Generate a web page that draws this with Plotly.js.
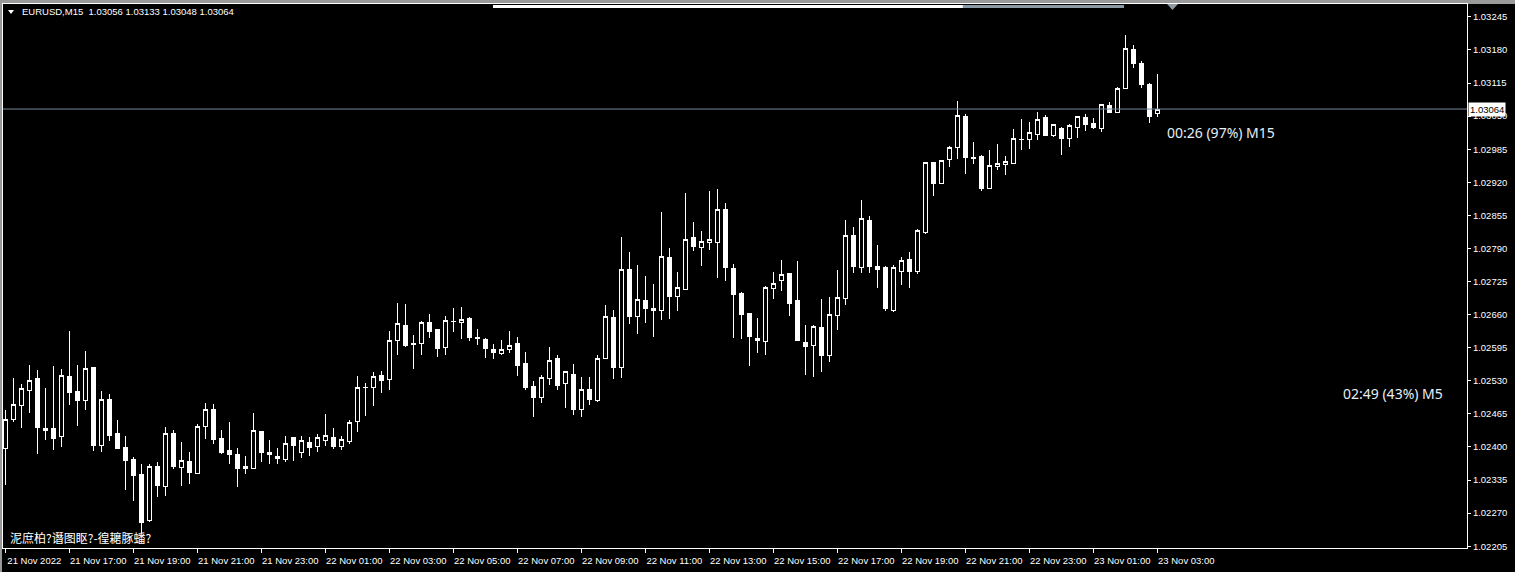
<!DOCTYPE html>
<html><head><meta charset="utf-8">
<script src="https://cdn.plot.ly/plotly-3.0.1.min.js"></script>
<style>
html,body{margin:0;padding:0;background:#000;overflow:hidden;}
#chart{width:1515px;height:572px;}
.trace.boxes path{shape-rendering:crispEdges;}
</style></head><body><div id="chart"></div><script>
const symbolTitle = 'EURUSD,M15';
const openP = [1.02397,1.02453,1.02481,1.02511,1.02534,1.02437,1.02437,1.02420,1.02539,1.02509,
1.02491,1.02557,1.02403,1.02494,1.02427,1.02398,1.02376,1.02345,1.02255,1.02361,
1.02322,1.02426,1.02360,1.02372,1.02348,1.02440,1.02473,1.02416,1.02394,1.02386,
1.02361,1.02357,1.02431,1.02390,1.02382,1.02375,1.02418,1.02390,1.02408,1.02400,
1.02412,1.02418,1.02400,1.02410,1.02450,1.02517,1.02516,1.02541,1.02533,1.02609,
1.02638,1.02604,1.02603,1.02644,1.02630,1.02595,1.02647,1.02644,1.02653,1.02616,
1.02612,1.02592,1.02583,1.02591,1.02604,1.02563,1.02518,1.02497,1.02534,1.02573,
1.02524,1.02543,1.02473,1.02512,1.02492,1.02573,1.02655,1.02556,1.02748,1.02656,
1.02687,1.02673,1.02668,1.02773,1.02695,1.02710,1.02811,1.02792,1.02802,1.02802,
1.02866,1.02750,1.02702,1.02663,1.02614,1.02608,1.02711,1.02727,1.02740,1.02687,
1.02606,1.02600,1.02634,1.02579,1.02659,1.02691,1.02815,1.02752,1.02844,1.02754,
1.02752,1.02669,1.02744,1.02769,1.02744,1.02822,1.02958,1.02917,1.02964,1.02988,
1.03050,1.02969,1.02970,1.02907,1.02951,1.02955,1.02957,1.03005,1.03004,1.03014,
1.03048,1.03012,1.03025,1.03006,1.03027,1.03048,1.03035,1.03025,1.03070,1.03057,
1.03105,1.03180,1.03154,1.03113,1.03056];
const highP = [1.02473,1.02535,1.02524,1.02561,1.02551,1.02516,1.02559,1.02553,1.02628,1.02561,
1.02589,1.02557,1.02509,1.02505,1.02453,1.02422,1.02381,1.02367,1.02367,1.02371,
1.02439,1.02433,1.02410,1.02390,1.02445,1.02486,1.02484,1.02433,1.02449,1.02398,
1.02382,1.02467,1.02431,1.02414,1.02398,1.02422,1.02420,1.02422,1.02420,1.02426,
1.02465,1.02437,1.02422,1.02453,1.02539,1.02525,1.02547,1.02549,1.02628,1.02683,
1.02681,1.02620,1.02648,1.02661,1.02630,1.02657,1.02673,1.02675,1.02655,1.02632,
1.02614,1.02602,1.02610,1.02628,1.02616,1.02587,1.02530,1.02541,1.02596,1.02581,
1.02549,1.02563,1.02538,1.02538,1.02581,1.02679,1.02669,1.02813,1.02783,1.02758,
1.02736,1.02720,1.02862,1.02791,1.02744,1.02899,1.02842,1.02824,1.02903,1.02907,
1.02879,1.02760,1.02704,1.02663,1.02653,1.02716,1.02744,1.02767,1.02740,1.02765,
1.02640,1.02640,1.02691,1.02695,1.02748,1.02846,1.02832,1.02885,1.02854,1.02797,
1.02756,1.02758,1.02773,1.02783,1.02828,1.02958,1.02958,1.02964,1.02991,1.03080,
1.03054,1.02999,1.02974,1.02984,1.02995,1.02972,1.03025,1.03044,1.03038,1.03058,
1.03052,1.03033,1.03029,1.03035,1.03050,1.03054,1.03046,1.03072,1.03078,1.03107,
1.03209,1.03190,1.03158,1.03115,1.03133];
const lowP = [1.02325,1.02450,1.02438,1.02467,1.02386,1.02414,1.02394,1.02400,1.02483,1.02441,
1.02473,1.02392,1.02391,1.02412,1.02397,1.02315,1.02293,1.02231,1.02253,1.02302,
1.02304,1.02357,1.02324,1.02328,1.02348,1.02416,1.02406,1.02386,1.02367,1.02322,
1.02347,1.02357,1.02371,1.02367,1.02367,1.02371,1.02373,1.02378,1.02382,1.02390,
1.02402,1.02396,1.02394,1.02406,1.02429,1.02460,1.02481,1.02507,1.02511,1.02581,
1.02597,1.02553,1.02580,1.02615,1.02577,1.02580,1.02625,1.02613,1.02608,1.02601,
1.02575,1.02573,1.02580,1.02585,1.02539,1.02511,1.02458,1.02487,1.02522,1.02511,
1.02477,1.02463,1.02458,1.02483,1.02488,1.02573,1.02534,1.02536,1.02642,1.02622,
1.02644,1.02616,1.02650,1.02652,1.02667,1.02708,1.02785,1.02756,1.02787,1.02732,
1.02726,1.02614,1.02612,1.02559,1.02585,1.02581,1.02691,1.02706,1.02657,1.02608,
1.02541,1.02538,1.02547,1.02567,1.02630,1.02679,1.02742,1.02742,1.02742,1.02712,
1.02667,1.02665,1.02718,1.02712,1.02740,1.02818,1.02893,1.02917,1.02950,1.02966,
1.02936,1.02956,1.02903,1.02907,1.02944,1.02934,1.02957,1.02984,1.02985,1.03003,
1.03012,1.03009,1.02974,1.02989,1.03007,1.03021,1.03025,1.03019,1.03057,1.03057,
1.03103,1.03145,1.03105,1.03037,1.03048];
const closeP = [1.02453,1.02483,1.02514,1.02531,1.02438,1.02433,1.02416,1.02541,1.02507,1.02492,
1.02555,1.02402,1.02494,1.02422,1.02397,1.02373,1.02344,1.02251,1.02361,1.02324,
1.02427,1.02361,1.02374,1.02349,1.02441,1.02474,1.02414,1.02390,1.02385,1.02357,
1.02357,1.02433,1.02390,1.02385,1.02377,1.02406,1.02402,1.02412,1.02398,1.02418,
1.02422,1.02400,1.02414,1.02449,1.02517,1.02516,1.02539,1.02530,1.02610,1.02642,
1.02600,1.02602,1.02644,1.02627,1.02593,1.02648,1.02646,1.02651,1.02616,1.02613,
1.02593,1.02585,1.02592,1.02600,1.02561,1.02516,1.02497,1.02536,1.02569,1.02520,
1.02549,1.02473,1.02512,1.02493,1.02573,1.02657,1.02557,1.02748,1.02656,1.02689,
1.02672,1.02668,1.02775,1.02695,1.02714,1.02807,1.02793,1.02803,1.02808,1.02866,
1.02752,1.02700,1.02661,1.02618,1.02610,1.02714,1.02722,1.02738,1.02681,1.02610,
1.02598,1.02636,1.02579,1.02661,1.02693,1.02815,1.02754,1.02848,1.02754,1.02748,
1.02673,1.02752,1.02767,1.02744,1.02826,1.02958,1.02917,1.02963,1.02989,1.03052,
1.02968,1.02966,1.02907,1.02954,1.02956,1.02960,1.03007,1.03004,1.03017,1.03044,
1.03012,1.03033,1.03007,1.03031,1.03050,1.03033,1.03027,1.03072,1.03057,1.03105,
1.03182,1.03154,1.03113,1.03050,1.03064];
const xTickLabels = ['21 Nov 2022','21 Nov 17:00','21 Nov 19:00','21 Nov 21:00','21 Nov 23:00',
'22 Nov 01:00','22 Nov 03:00','22 Nov 05:00','22 Nov 07:00','22 Nov 09:00','22 Nov 11:00',
'22 Nov 13:00','22 Nov 15:00','22 Nov 17:00','22 Nov 19:00','22 Nov 21:00','22 Nov 23:00',
'23 Nov 01:00','23 Nov 03:00'];
const barsPerLabel = 8;
const yTickVals = [1.02205,1.02270,1.02335,1.02400,1.02465,1.02530,1.02595,1.02660,1.02725,
1.02790,1.02855,1.02920,1.02985,1.03050,1.03115,1.03180,1.03245];
const timerM15 = '00:26 (97%) M15';
const timerM5 = '02:49 (43%) M5';
const footerText = '泥庶柏?谮图眍?-徨耱豚蟠?';

const barIndex = openP.map((_, i) => i);
const xTickVals = xTickLabels.map((_, i) => i * barsPerLabel);
const last = closeP.length - 1;
const lastClose = closeP[last];
const fmt = v => v.toFixed(5);
const headerText = symbolTitle + '  ' + [openP[last], highP[last], lowP[last], closeP[last]].map(fmt).join(' ');

const axisFont = {family: 'Liberation Sans, Arial, sans-serif', size: 9.5, color: '#ffffff'};
const timerFont = {family: 'Noto Sans, sans-serif', size: 14, color: '#e8eef6'};

const trace = {
  type: 'candlestick',
  x: barIndex, open: openP, high: highP, low: lowP, close: closeP,
  increasing: {line: {color: '#ffffff', width: 1}, fillcolor: '#000000'},
  decreasing: {line: {color: '#ffffff', width: 1}, fillcolor: '#ffffff'},
  whiskerwidth: 0,
  hoverinfo: 'skip'
};

const layout = {
  width: 1515, height: 572,
  margin: {l: 3, r: 48, t: 4, b: 24, pad: 0},
  paper_bgcolor: '#000000', plot_bgcolor: '#000000',
  showlegend: false,
  xaxis: {
    range: [-0.2875, 182.7125], rangeslider: {visible: false},
    tickmode: 'array', tickvals: xTickVals, ticktext: xTickLabels,
    ticks: 'outside', ticklen: 4, tickcolor: '#ffffff', tickwidth: 1,
    ticklabelshift: 29,
    showgrid: false, zeroline: false,
    showline: true, linecolor: '#ffffff', linewidth: 1, mirror: true,
    tickfont: axisFont, fixedrange: true
  },
  yaxis: {
    side: 'right', range: [1.0220145, 1.0327035],
    tickmode: 'array', tickvals: yTickVals, ticktext: yTickVals.map(fmt),
    ticks: 'outside', ticklen: 3, tickcolor: '#ffffff', tickwidth: 1,
    showgrid: false, zeroline: false,
    showline: true, linecolor: '#ffffff', linewidth: 1, mirror: true,
    tickfont: axisFont, fixedrange: true
  },
  shapes: [
    {type: 'line', xref: 'paper', yref: 'y', x0: 0, x1: 1, y0: lastClose, y1: lastClose,
     line: {color: '#778899', width: 1}},
    {type: 'rect', xref: 'paper', yref: 'paper', x0: 0.3347, x1: 0.6557, y0: 0.9927, y1: 0.9982,
     fillcolor: '#ffffff', line: {width: 0}},
    {type: 'rect', xref: 'paper', yref: 'paper', x0: 0.6557, x1: 0.7657, y0: 0.9927, y1: 0.9982,
     fillcolor: '#8c9aa6', line: {width: 0}},
    {type: 'path', xref: 'paper', yref: 'paper', path: 'M 0.7951 1.0 L 0.8026 1.0 L 0.7988 0.9890 Z',
     fillcolor: '#8c9aa6', line: {width: 0}},
    {type: 'path', xref: 'paper', yref: 'paper', path: 'M 0.00342 0.98897 L 0.00751 0.98897 L 0.00546 0.98162 Z',
     fillcolor: '#ffffff', line: {width: 0}},
    {type: 'rect', xref: 'paper', yref: 'paper', x0: -0.0021, x1: 1.0328, y0: 1.0, y1: 1.0074,
     fillcolor: '#9a9a9a', line: {width: 0}, layer: 'below'},
    {type: 'rect', xref: 'paper', yref: 'paper', x0: -0.0021, x1: -0.0007, y0: -0.045, y1: 1.0074,
     fillcolor: '#9a9a9a', line: {width: 0}, layer: 'below'}
  ],
  annotations: [
    {xref: 'paper', yref: 'paper', x: 0.0116, y: 0.9853, xanchor: 'left', yanchor: 'middle',
     text: headerText, showarrow: false, font: axisFont},
    {xref: 'paper', yref: 'y', x: 1, y: lastClose, xanchor: 'left', yanchor: 'middle', xshift: 1,
     text: fmt(lastClose), showarrow: false, bgcolor: '#ffffff', borderpad: 1,
     font: {family: 'Liberation Sans, Arial, sans-serif', size: 9.5, color: '#000000'}},
    {xref: 'paper', yref: 'paper', x: 0.7937, y: 0.7647, xanchor: 'left', yanchor: 'middle',
     text: timerM15, showarrow: false, font: timerFont},
    {xref: 'paper', yref: 'paper', x: 0.9139, y: 0.2849, xanchor: 'left', yanchor: 'middle',
     text: timerM5, showarrow: false, font: timerFont},
    {xref: 'paper', yref: 'paper', x: 0.0034, y: 0.0184, xanchor: 'left', yanchor: 'middle',
     text: footerText, showarrow: false, font: {family: 'Noto Sans CJK SC, sans-serif', size: 12, color: '#ffffff'}}
  ]
};

Plotly.newPlot('chart', [trace], layout, {staticPlot: true, displayModeBar: false});
</script></body></html>
